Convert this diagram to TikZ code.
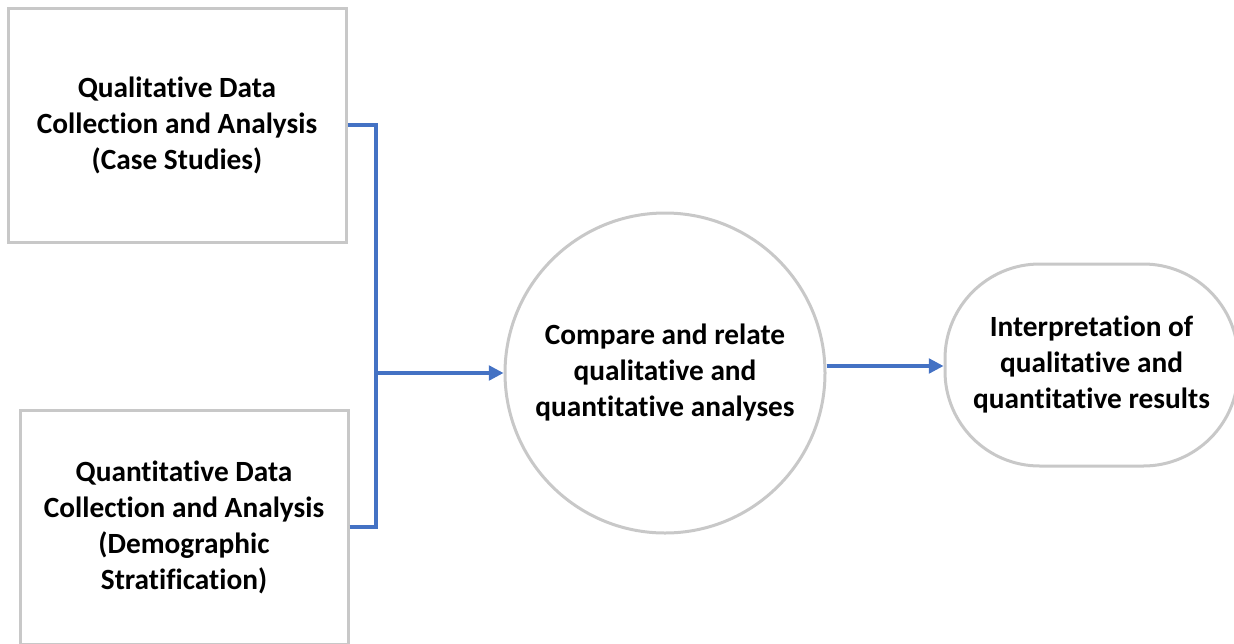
\documentclass[tikz,border=0pt]{standalone}
\usepackage{fontspec}
\setmainfont{Carlito}[Ligatures=CommonOff]
\usetikzlibrary{arrows.meta}

\definecolor{boxgray}{RGB}{200,200,200}
\definecolor{linkblue}{RGB}{68,114,196}

\tikzset{every picture/.style={line width=0.75pt}}
\tikzset{
  stagebox/.style={draw=boxgray, line width=2.25pt, fill=white, align=center, font=\fontsize{22}{27}\selectfont\bfseries, inner sep=0pt},
  link/.style={draw=linkblue, line width=2.4pt},
  linkarrow/.style={link, -{Triangle[length=11pt,width=11pt]}}
}

\begin{document}
\begin{tikzpicture}[x=0.75pt,y=0.75pt,yscale=-1,xscale=1]
	\useasboundingbox (0,0) rectangle (1234,643);

	%Shape: Rectangle [id:qual]
	\node [stagebox, minimum width=253.5pt, minimum height=175.5pt] (qual) at (177,125) {Qualitative Data\\Collection and Analysis\\(Case Studies)};
	%Shape: Rectangle [id:quant]
	\node [stagebox, minimum width=246pt, minimum height=175.5pt] (quant) at (184,527) {Quantitative Data\\Collection and Analysis\\(Demographic\\Stratification)};
	%Shape: Circle [id:compare]
	\node [stagebox, circle, minimum size=240pt] (compare) at (665,373) {Compare and relate\\qualitative and\\quantitative analyses};
	%Shape: Rounded Rect [id:interp]
	\node [stagebox, rounded corners=71pt, minimum width=219.75pt, minimum height=151.5pt] (interp) at (1091.5,365) {Interpretation of\\qualitative and\\quantitative results};

	%Straight Lines [id:join]
	\coordinate (join) at (376,373);
	\draw [link] (qual.east) -| (join);
	\draw [link] (quant.east) -| (join);
	\draw [linkarrow] (join) -- (compare.west);
	%Straight Lines [id:result]
	\draw [linkarrow] (compare.east |- 0,366) -- (interp.west |- 0,366);

\end{tikzpicture}
\end{document}
